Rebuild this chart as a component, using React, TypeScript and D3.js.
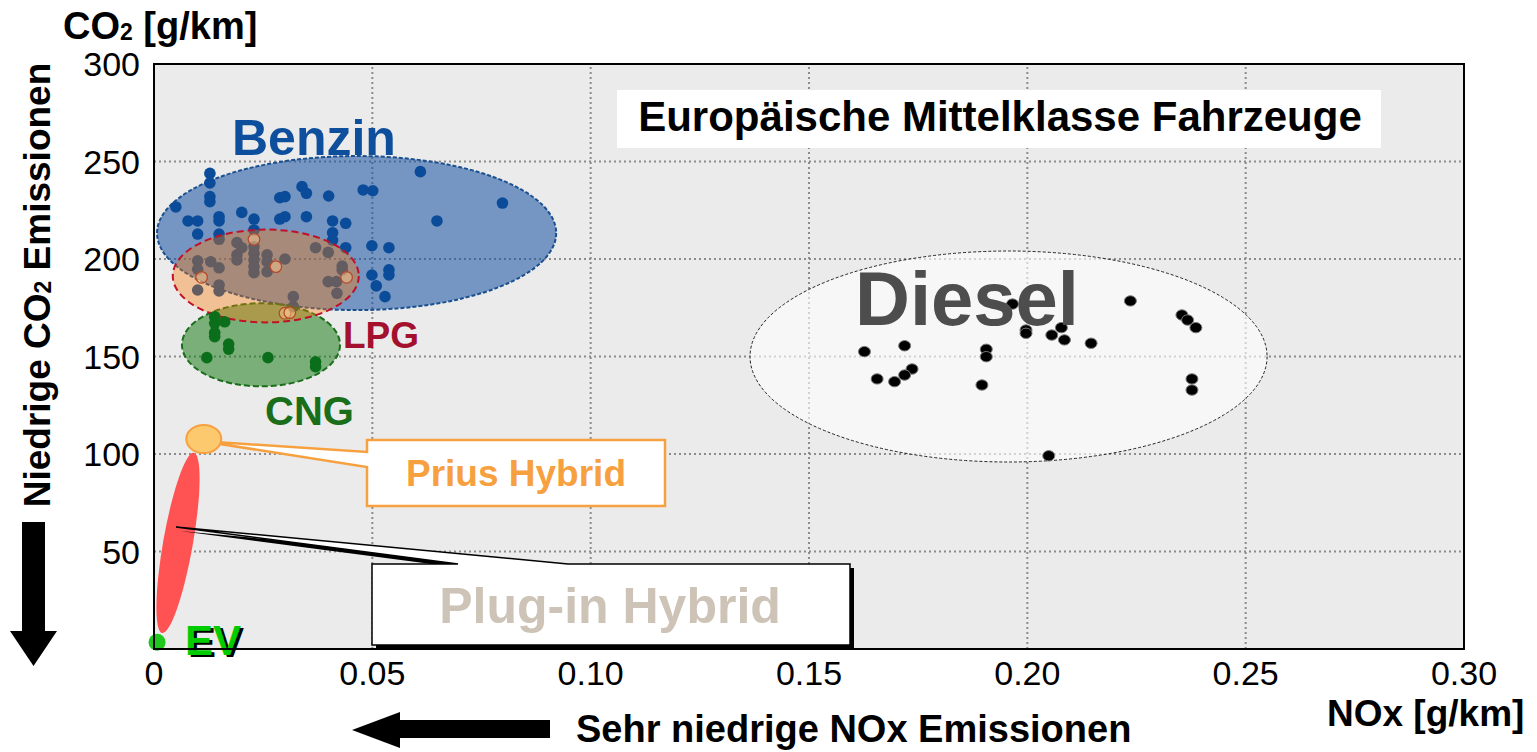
import React from "react";
import * as d3 from "d3";

// ---------- data ----------
const X_TICKS = [0, 0.05, 0.1, 0.15, 0.2, 0.25, 0.3];
const X_TICK_LABELS = ["0", "0.05", "0.10", "0.15", "0.20", "0.25", "0.30"];
const Y_TICKS = [50, 100, 150, 200, 250, 300];
const Y_TICK_LABELS = ["50", "100", "150", "200", "250", "300"];

// Benzin (petrol) cars [NOx, CO2]
const benzin: [number, number][] = [
  [0.0128, 243.9], [0.0128, 239], [0.0128, 232], [0.0128, 229.4], [0.005, 226.7],
  [0.0078, 219.5], [0.01, 219.5], [0.01, 212.8], [0.0149, 221.7], [0.0149, 219.5],
  [0.0149, 212.8], [0.0201, 223.9], [0.0229, 220.5], [0.0229, 214.9], [0.0288, 231.4],
  [0.03, 232], [0.0288, 220.5], [0.03, 221.7], [0.0339, 237.1], [0.0349, 233.7],
  [0.0349, 221.7], [0.04, 232.3], [0.0409, 219.5], [0.0439, 218.3], [0.0409, 213.5],
  [0.0409, 209.7], [0.0439, 205.8], [0.0479, 235.4], [0.0501, 235], [0.061, 244.8],
  [0.0648, 219.5], [0.0499, 206.8], [0.0538, 205.8], [0.0499, 191.8], [0.0538, 194.4],
  [0.0538, 191.8], [0.0509, 186.2], [0.0529, 180.7], [0.0798, 228.7],
  [0.0149, 210.1], [0.019, 208.4], [0.0201, 205.8], [0.019, 202.1], [0.019, 199.5],
  [0.0229, 206.3], [0.0229, 202.9], [0.0229, 199.5], [0.0229, 196.1], [0.0229, 193],
  [0.0259, 202.1], [0.0259, 198.6], [0.0259, 193.5], [0.03, 200], [0.01, 199.1],
  [0.013, 198.6], [0.01, 194.7], [0.0149, 195.5], [0.037, 205.8], [0.0399, 203.4],
  [0.0431, 196.4], [0.0431, 194.4], [0.0399, 188.4], [0.0418, 188.4], [0.0419, 182.4],
  [0.0149, 186.7], [0.0149, 183.6], [0.01, 184.1], [0.0319, 180.7], [0.0319, 175.6],
];

// LPG cars
const lpg: [number, number][] = [
  [0.0229, 210.1], [0.0279, 196.1], [0.0109, 190.6], [0.0441, 190.6], [0.03, 172.2], [0.0311, 172.5],
];

// CNG cars
const cng: [number, number][] = [
  [0.0139, 170.4], [0.0162, 167.8], [0.0139, 167], [0.0139, 162.2], [0.0139, 160.2],
  [0.0171, 156.4], [0.0171, 153.8], [0.0121, 149.4], [0.0261, 149.4], [0.037, 147.3], [0.037, 144.8],
];

// Diesel cars
const diesel: [number, number][] = [
  [0.1966, 176.9], [0.2236, 178.5], [0.2354, 171.3], [0.2367, 168.7], [0.2386, 164.8],
  [0.1997, 163.6], [0.1997, 161.9], [0.2078, 164.8], [0.2056, 161], [0.2085, 158.5],
  [0.2146, 156.8], [0.1627, 152.5], [0.1719, 155.5], [0.1906, 153.7], [0.1906, 149.9],
  [0.1736, 143.6], [0.1656, 138.5], [0.1719, 140.5], [0.1696, 137.1], [0.1896, 135.4],
  [0.2377, 138.5], [0.2377, 132.8], [0.2049, 99.1],
];

// EV
const ev: [number, number][] = [[0.0007, 3.5]];

// cluster ellipses: [cx, cy, rx, ry] in data units
const benzinEllipse = [0.0464, 213.3, 0.0457, 39.5];
const lpgEllipse = [0.0256, 191.3, 0.0213, 23.8];
const cngEllipse = [0.0245, 156, 0.0181, 21.3];
const dieselEllipse = [0.1957, 150, 0.0592, 54.1];
const priusEllipse = [0.0114, 107.7, 0.004, 7.2];
const phevEllipse = [0.0055, 54.4, 0.0034, 46.9];

const FONT = "'Liberation Sans', Arial, Helvetica, sans-serif";

export default function App() {
  const W = 1537;
  const H = 752;
  const x = d3.scaleLinear().domain([0, 0.3]).range([154, 1464]);
  const y = d3.scaleLinear().domain([0, 300]).range([649, 64]);

  const ell = (e: number[]) => ({
    cx: x(e[0]),
    cy: y(e[1]),
    rx: x(e[2]) - x(0),
    ry: y(0) - y(e[3]),
  });

  const be = ell(benzinEllipse);
  const le = ell(lpgEllipse);
  const ce = ell(cngEllipse);
  const de = ell(dieselEllipse);
  const pe = ell(priusEllipse);
  const ph = ell(phevEllipse);

  // callout shapes
  const priusCallout = `M${pe.cx - 3},${pe.cy + 2} L367,452 L367,440 L665,440 L665,506 L367,506 L367,467 Z`;
  const phevTipX = ph.cx - 2;
  const phevTipY = ph.cy - 16;
  const phevCallout = `M${phevTipX},${phevTipY} L568,564 L850,564 L850,645 L372,645 L372,564 L458,564 Z`;

  return (
    <svg
      width={W}
      height={H}
      style={{ position: "absolute", left: 0, top: 0, background: "#fff" }}
      fontFamily={FONT}
    >
      {/* plot background */}
      <rect x={x(0)} y={y(300)} width={x(0.3) - x(0)} height={y(0) - y(300)} fill="#ebebeb" />

      {/* gridlines */}
      {X_TICKS.slice(1, -1).map((t) => (
        <line key={"gx" + t} x1={x(t)} x2={x(t)} y1={y(0)} y2={y(300)} stroke="#8c8c8c" strokeWidth={2} strokeDasharray="2,3" />
      ))}
      {Y_TICKS.slice(0, -1).map((t) => (
        <line key={"gy" + t} x1={x(0)} x2={x(0.3)} y1={y(t)} y2={y(t)} stroke="#8c8c8c" strokeWidth={2} strokeDasharray="2,3" />
      ))}

      {/* diesel ellipse */}
      <ellipse {...de} fill="#ffffff" fillOpacity={0.6} stroke="#222" strokeWidth={1} strokeDasharray="3,2" />

      {/* benzin ellipse + points */}
      <ellipse {...be} fill="rgb(20,80,160)" fillOpacity={0.55} stroke="#1a4f90" strokeWidth={2} strokeDasharray="4,2" />
      {benzin.map((d, i) => (
        <circle key={"b" + i} cx={x(d[0])} cy={y(d[1])} r={5.8} fill="#0a4c99" />
      ))}

      {/* CNG ellipse */}
      <ellipse {...ce} fill="rgb(20,120,20)" fillOpacity={0.53} stroke="#1a6e1a" strokeWidth={2} strokeDasharray="6,3" />

      {/* LPG ellipse + points */}
      <ellipse {...le} fill="rgb(251,119,0)" fillOpacity={0.37} stroke="#c0102a" strokeWidth={2} strokeDasharray="7,4" />
      {lpg.map((d, i) => (
        <circle key={"l" + i} cx={x(d[0])} cy={y(d[1])} r={5.8} fill="rgba(250,195,140,0.5)" stroke="#b5482a" strokeWidth={1.2} />
      ))}

      {/* CNG points */}
      {cng.map((d, i) => (
        <circle key={"c" + i} cx={x(d[0])} cy={y(d[1])} r={5.8} fill="#0b6e1b" />
      ))}

      {/* diesel points */}
      {diesel.map((d, i) => (
        <ellipse key={"d" + i} cx={x(d[0])} cy={y(d[1])} rx={6} ry={5.2} fill="#000" stroke="#7a7a7a" strokeWidth={1} />
      ))}

      {/* PHEV ellipse */}
      <ellipse {...ph} fill="#ff5252" transform={`rotate(10,${ph.cx},${ph.cy})`} />

      {/* Prius callout */}
      <path d={priusCallout} fill="#fff" stroke="#f7a040" strokeWidth={2.5} strokeLinejoin="miter" />
      <ellipse {...pe} fill="#fdc96e" stroke="#f7a040" strokeWidth={2} />
      <text x={516} y={486} textAnchor="middle" fontSize={37} fontWeight="bold" fill="#f7a040">Prius Hybrid</text>

      {/* PHEV callout with shadow */}
      <path d={phevCallout} transform="translate(4,4)" fill="#000" />
      <path d={phevCallout} fill="#fff" stroke="#000" strokeWidth={1.5} />
      <text x={610} y={623} textAnchor="middle" fontSize={50} fontWeight="bold" fill="#cdc3b6">Plug-in Hybrid</text>

      {/* EV */}
      {ev.map((d, i) => (
        <circle key={"e" + i} cx={x(d[0])} cy={y(d[1])} r={8.5} fill="#1ec81e" />
      ))}
      <text x={188} y={657} fontSize={42} fontWeight="bold" fill="#000">EV</text>
      <text x={185} y={655} fontSize={42} fontWeight="bold" fill="#00cc00">EV</text>

      {/* title box */}
      <rect x={617} y={90} width={764} height={58} fill="#fff" />
      <text x={1000} y={131} textAnchor="middle" fontSize={42} fontWeight="bold" fill="#000">Europäische Mittelklasse Fahrzeuge</text>

      {/* cluster labels */}
      <text x={232} y={155} fontSize={50} fontWeight="bold" fill="#0d4f9c">Benzin</text>
      <text x={343} y={348} fontSize={37} fontWeight="bold" fill="#a3112e">LPG</text>
      <text x={265} y={425} fontSize={40} fontWeight="bold" fill="#1a6e1a">CNG</text>
      <text x={855} y={325} fontSize={76} fontWeight="bold" fill="#4d4d4d">Diesel</text>

      {/* plot border */}
      <rect x={x(0)} y={y(300)} width={x(0.3) - x(0)} height={y(0) - y(300)} fill="none" stroke="#000" strokeWidth={2} />

      {/* tick labels */}
      {Y_TICKS.map((t, i) => (
        <text key={"yt" + t} x={140} y={y(t)} dy="0.36em" textAnchor="end" fontSize={34} fill="#000">{Y_TICK_LABELS[i]}</text>
      ))}
      {X_TICKS.map((t, i) => (
        <text key={"xt" + t} x={x(t)} y={685} textAnchor="middle" fontSize={34} fill="#000">{X_TICK_LABELS[i]}</text>
      ))}

      {/* axis titles */}
      <text x={63} y={39} fontSize={38} fontWeight="bold" fill="#000">
        CO<tspan fontSize={23} dy={1}>2</tspan><tspan dy={-1}> [g/km]</tspan>
      </text>
      <text x={1327} y={726} fontSize={37} fontWeight="bold" fill="#000">NOx [g/km]</text>
      <text transform="translate(50,285) rotate(-90)" textAnchor="middle" fontSize={37} fontWeight="bold" fill="#000">
        Niedrige CO<tspan fontSize={23} dy={1}>2</tspan><tspan dy={-1}> Emissionen</tspan>
      </text>
      <text x={576} y={742} fontSize={38} fontWeight="bold" fill="#000">Sehr niedrige NOx Emissionen</text>

      {/* arrows */}
      <path d="M22,522 L45,522 L45,631 L57,631 L33.5,666 L10,631 L22,631 Z" fill="#000" />
      <path d="M550,720 L550,738 L400,738 L400,748 L352,730 L400,712 L400,720 Z" fill="#000" />
    </svg>
  );
}
